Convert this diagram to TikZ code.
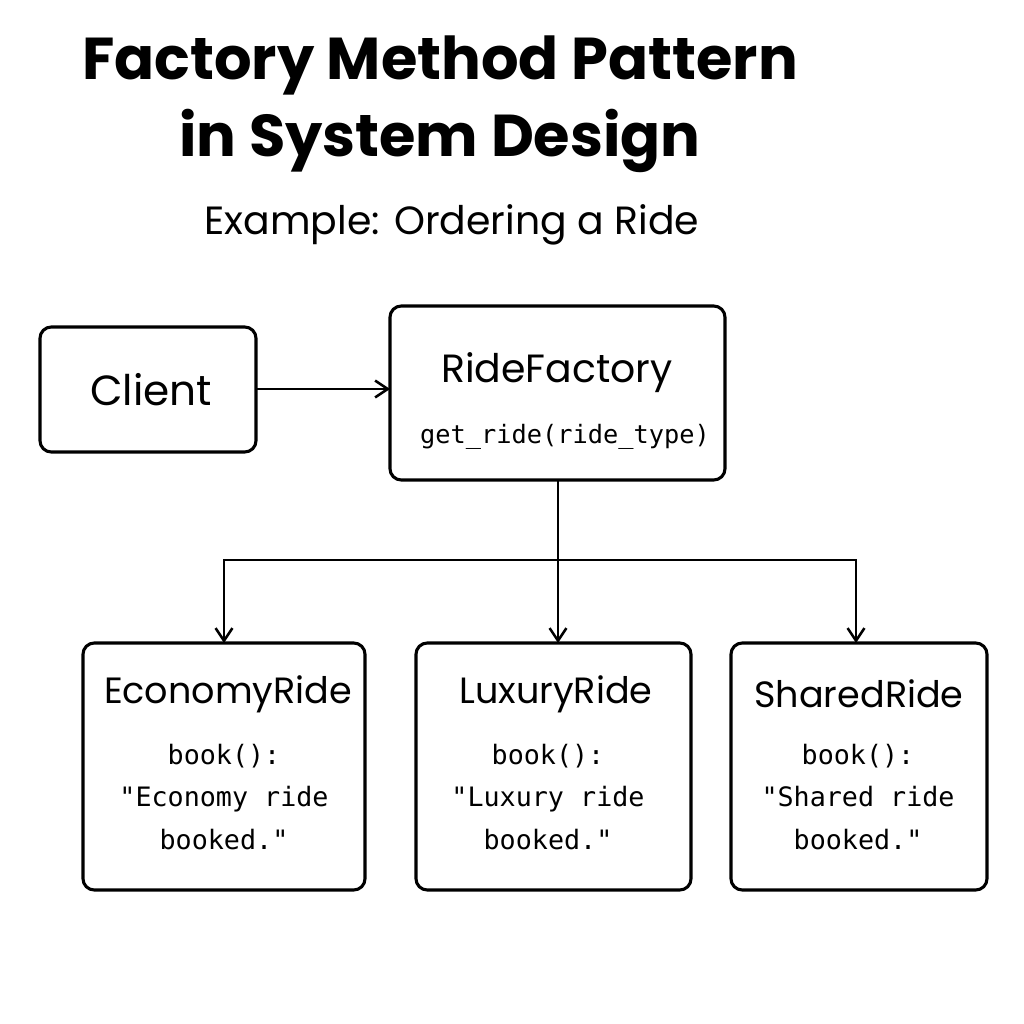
\documentclass[tikz,border=0pt]{standalone}
\usepackage{fontspec}
\setmainfont{Poppins}
\setmonofont{DejaVu Sans Mono}
\usetikzlibrary{positioning,arrows.meta}
\begin{document}
\begin{tikzpicture}[x=0.025cm,y=-0.025cm,
  box/.style={draw=black,line width=2.2pt,rounded corners=8pt},
  arr/.style={line width=1.8pt,-{Straight Barb[length=9pt,width=12pt]}}]
\useasboundingbox (0,0) rectangle (1024,1024);
% title
\node[font=\fontsize{42}{55}\selectfont\bfseries,align=center] (title) at (440,104) {Factory Method Pattern\\in System Design};
\node[font=\fontsize{28}{34}\selectfont] (sub) at (452,225) {Example: Ordering a Ride};
% boxes
\draw[box] (40,327) rectangle (256,452);
\node[font=\fontsize{30}{36}\selectfont] (client) at (151,390) {Client};
\draw[box] (390,306) rectangle (725,480);
\node[font=\fontsize{28}{34}\selectfont] (fact) at (557,373) {RideFactory};
\node[font=\fontsize{18}{24}\ttfamily] (get) at (565,437) {get\_ride(ride\_type)};
\draw[box] (83,643) rectangle (365,890);
\draw[box] (416,643) rectangle (691,890);
\draw[box] (731,643) rectangle (987,890);
\node[font=\fontsize{26}{32}\selectfont] (eco) at (228,694) {EconomyRide};
\node[font=\fontsize{26}{32}\selectfont] (lux) at (556,694) {LuxuryRide};
\node[font=\fontsize{26}{32}\selectfont] (sha) at (859,694) {SharedRide};
\node[font=\fontsize{19}{30}\ttfamily,align=center] (ecot) at (224,797) {book():\\"Economy ride\\booked."};
\node[font=\fontsize{19}{30}\ttfamily,align=center] (luxt) at (548,797) {book():\\"Luxury ride\\booked."};
\node[font=\fontsize{19}{30}\ttfamily,align=center] (shat) at (858,797) {book():\\"Shared ride\\booked."};
% connectors
\coordinate (c1) at (256,389);
\coordinate (f1) at (390,389);
\draw[arr] (c1) -- (f1);
\coordinate (ftop) at (558,480);
\coordinate (mid) at (558,560);
\draw[line width=1.8pt] (ftop) -- (mid);
\draw[line width=1.8pt] (224,560) -- (856,560);
\coordinate (e1) at (224,643);
\coordinate (l1) at (558,643);
\coordinate (s1) at (856,643);
\draw[arr] (224,559) -- (e1);
\draw[arr] (mid) -- (l1);
\draw[arr] (856,559) -- (s1);
\end{tikzpicture}
\end{document}
